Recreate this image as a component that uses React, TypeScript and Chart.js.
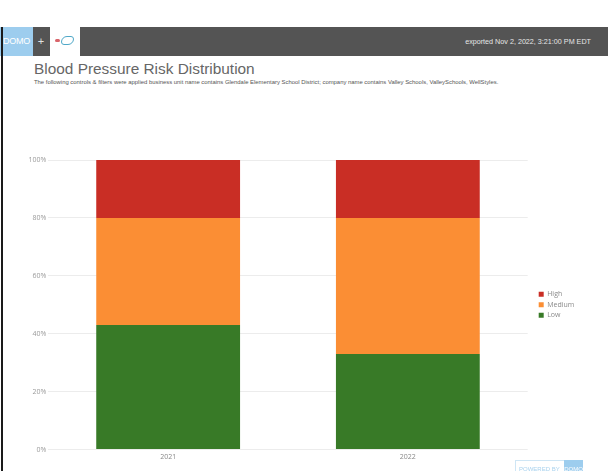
import React, { useEffect, useRef } from 'react';
import { Chart, registerables } from 'chart.js';

Chart.register(...registerables);

// Share of members in each blood-pressure risk band, per year (percent).
const YEARS = ['2021', '2022'];
const LOW = [43, 33];
const MEDIUM = [37, 47];
const HIGH = [20, 20];
const RISK_LABELS = ['Low', 'Medium', 'High'];
const RISK_COLORS = ['#387a27', '#fb8e34', '#c92e25'];
const Y_MAX = 100;
const Y_STEP = 20;

const TITLE = 'Blood Pressure Risk Distribution';
const FILTER_NOTE =
  'The following controls & filters were applied business unit name contains Glendale Elementary School District; company name contains Valley Schools, ValleySchools, WellStyles.';
const EXPORT_NOTE = 'exported Nov 2, 2022, 3:21:00 PM EDT';

const TICK_FONT = { family: '"Open Sans", "Liberation Sans", sans-serif', size: 7 };

function RiskChart() {
  const ref = useRef<HTMLCanvasElement>(null);

  useEffect(() => {
    const canvas = ref.current;
    if (!canvas) return;
    const series = [LOW, MEDIUM, HIGH];
    const chart = new Chart(canvas, {
      type: 'bar',
      data: {
        labels: YEARS,
        datasets: series.map((data, i) => ({
          label: RISK_LABELS[i],
          data,
          backgroundColor: RISK_COLORS[i],
          borderWidth: 0,
          barPercentage: 0.6,
          categoryPercentage: 1,
          xAxisID: 'x',
          yAxisID: 'y',
        })),
      },
      options: {
        responsive: false,
        animation: false,
        layout: { padding: { top: 20, bottom: 7, left: 0, right: 32.8 } },
        plugins: {
          legend: {
            position: 'right',
            fullSize: false,
            reverse: true,
            maxWidth: 40,
            labels: {
              boxWidth: 5,
              boxHeight: 5,
              padding: 3.5,
              color: '#8a8a8a',
              font: TICK_FONT,
            },
          },
          tooltip: { enabled: false },
        },
        scales: {
          x: {
            stacked: true,
            grid: { display: false, drawTicks: false },
            border: { display: false },
            ticks: { color: '#888', padding: 3, font: TICK_FONT },
          },
          y: {
            stacked: true,
            min: 0,
            max: Y_MAX,
            ticks: {
              stepSize: Y_STEP,
              padding: 2,
              color: '#9a9a9a',
              font: TICK_FONT,
              callback: (v: any) => `${v}%`,
            },
            grid: { color: '#ececec', drawTicks: false },
            border: { display: false },
            afterFit: (s: any) => {
              s.width = 44.3;
            },
          },
          // narrow empty band between the plot and the legend
          gap: {
            type: 'linear',
            position: 'right',
            display: true,
            grid: { display: false, drawTicks: false },
            border: { display: false },
            ticks: { display: false },
            afterFit: (s: any) => {
              s.width = 7.5;
            },
          },
        },
      } as any,
    });
    return () => chart.destroy();
  }, []);

  return (
    <canvas
      ref={ref}
      width={604}
      height={331}
      style={{ position: 'absolute', left: 4, top: 140, width: 604, height: 331 }}
    />
  );
}

export default function App() {
  const sans = '"Liberation Sans", Arial, sans-serif';
  return (
    <div
      style={{
        position: 'absolute',
        left: 0,
        top: 0,
        width: 608,
        height: 471,
        overflow: 'hidden',
        background: '#fff',
        fontFamily: sans,
      }}
    >
      {/* export header */}
      <div style={{ position: 'absolute', left: 0, top: 27, width: 608, height: 29, background: '#545454' }} />
      <div
        style={{
          position: 'absolute',
          left: 0,
          top: 27,
          width: 33,
          height: 29,
          background: '#9dcdee',
          color: '#fff',
          fontSize: 9,
          lineHeight: '29px',
          textAlign: 'center',
          letterSpacing: -0.3,
        }}
      >
        DOMO
      </div>
      <div
        style={{
          position: 'absolute',
          left: 36,
          top: 27,
          width: 10,
          height: 29,
          color: '#e0e0e0',
          fontSize: 11,
          lineHeight: '29px',
          textAlign: 'center',
        }}
      >
        +
      </div>
      <div style={{ position: 'absolute', left: 50, top: 27, width: 30, height: 29, background: '#fff' }}>
        <div style={{ position: 'absolute', left: 5, top: 12, width: 5, height: 3, background: '#d9646a', borderRadius: 2 }} />
        <div style={{ position: 'absolute', left: 11, top: 9, width: 13, height: 9, border: '1px solid #4fa8c8', borderRadius: '6px 3px 6px 3px', boxSizing: 'border-box' }} />
      </div>
      <div
        style={{
          position: 'absolute',
          right: 17,
          top: 27,
          height: 29,
          lineHeight: '29px',
          color: '#e6e6e6',
          fontSize: 7.2,
          whiteSpace: 'nowrap',
        }}
      >
        {EXPORT_NOTE}
      </div>
      {/* left frame edge */}
      <div style={{ position: 'absolute', left: 1, top: 27, width: 2, height: 444, background: '#1a1a1a', zIndex: 2 }} />

      <div
        style={{
          position: 'absolute',
          left: 34,
          top: 61,
          fontSize: 15.4,
          lineHeight: '15.4px',
          color: '#666',
          whiteSpace: 'nowrap',
        }}
      >
        {TITLE}
      </div>
      <div
        style={{
          position: 'absolute',
          left: 34,
          top: 80.2,
          fontSize: 5.9,
          lineHeight: '5.9px',
          color: '#555',
          whiteSpace: 'nowrap',
        }}
      >
        {FILTER_NOTE}
      </div>

      <RiskChart />

      {/* powered-by badge */}
      <div
        style={{
          position: 'absolute',
          left: 515,
          top: 460,
          width: 68,
          height: 16,
          border: '1px solid #cfe6f5',
          boxSizing: 'border-box',
          background: '#fff',
          zIndex: 2,
        }}
      >
        <div
          style={{
            position: 'absolute',
            left: 3,
            top: 4,
            fontSize: 6,
            lineHeight: '8px',
            color: '#a9d2ee',
            whiteSpace: 'nowrap',
          }}
        >
          POWERED BY
        </div>
        <div
          style={{
            position: 'absolute',
            left: 48,
            top: -1,
            width: 19,
            height: 16,
            background: '#9dcdee',
            color: '#fff',
            fontSize: 6,
            lineHeight: '18px',
            textAlign: 'center',
          }}
        >
          DOMO
        </div>
      </div>
    </div>
  );
}
